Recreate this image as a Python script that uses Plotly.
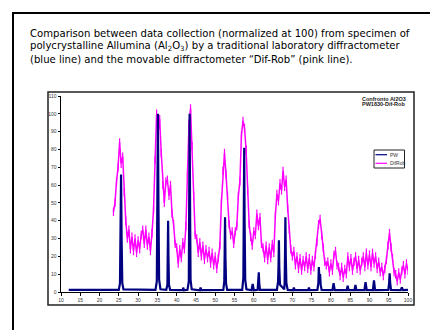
import plotly.graph_objects as go

# ---------------- data ----------------
# PW (traditional laboratory diffractometer) - 2theta / normalized intensity
pw_x = [12.0, 25.0, 25.3, 25.45, 25.58, 25.72, 25.9, 26.2,
        34.5, 34.85, 35.0, 35.14, 35.28, 35.45, 35.8,
        37.3, 37.6, 37.7, 37.78, 37.88, 38.0, 38.3,
        41.6, 41.7, 41.9, 42.8, 43.15, 43.25, 43.36, 43.48, 43.6, 43.9,
        46.0, 46.2, 46.4,
        52.1, 52.35, 52.45, 52.55, 52.65, 52.8, 53.1,
        57.0, 57.3, 57.42, 57.52, 57.62, 57.78, 58.1,
        59.4, 59.72, 60.0,
        61.0, 61.18, 61.3, 61.42, 61.6,
        66.0, 66.3, 66.42, 66.52, 66.62, 66.8, 67.9,
        68.0, 68.1, 68.2, 68.3, 68.45, 68.8,
        70.2, 70.4, 70.6, 74.1, 74.3, 74.5,
        76.5, 76.75, 76.87, 77.0, 77.2, 77.35, 77.6,
        80.4, 80.7, 81.0, 84.1, 84.35, 84.6, 86.1, 86.37, 86.6,
        88.7, 88.99, 89.3, 90.9, 91.18, 91.45,
        94.9, 95.1, 95.24, 95.38, 95.6,
        98.1, 98.4, 98.7, 100.0]
pw_y = [1.2, 1.2, 5, 32, 66, 30, 5, 1.5,
        1.2, 6, 50, 100, 48, 7, 1.5,
        1.2, 4, 20, 40, 19, 4, 1.2,
        1.0, 2.5, 1.0, 1.2, 6, 50, 100, 48, 7, 1.5,
        1.0, 2.5, 1.0,
        1.2, 6, 22, 42, 20, 5, 1.2,
        1.2, 8, 42, 81, 40, 7, 1.5,
        1.0, 4.5, 1.0,
        1.2, 5, 11, 5, 1.2,
        1.2, 6, 15, 29, 14, 4, 1.5,
        5, 21, 42, 20, 5, 1.2,
        1.0, 2.5, 1.0, 1.0, 2.5, 1.0,
        1.2, 5, 14, 9, 10, 4, 1.2,
        1.0, 5, 1.0, 1.0, 3.5, 1.0, 1.0, 4, 1.0,
        1.0, 5.5, 1.0, 1.0, 6.5, 1.0,
        1.2, 5, 10.5, 5, 1.2,
        1.0, 2.5, 1.0, 1.2]

# Dif-Rob (movable diffractometer) - constant-step scan
difrob_start = 23.6
difrob_step = 0.4
difrob_y = [45, 50, 62, 70, 84, 72, 76, 56, 40, 30,
            35, 24, 31, 23, 30, 22, 29, 24, 32, 35,
            27, 35, 26, 31, 23, 33, 46, 74, 100, 90,
            97, 78, 60, 50, 62, 63, 54, 60, 44, 38,
            27, 25, 16, 24, 19, 28, 24, 37, 66, 94,
            103, 82, 54, 32, 30, 22, 28, 20, 26, 18,
            24, 19, 23, 16, 22, 15, 20, 13, 19, 26,
            50, 68, 78, 66, 54, 38, 32, 34, 27, 34,
            37, 54, 62, 88, 96, 92, 80, 57, 38, 31,
            26, 34, 32, 44, 37, 42, 27, 25, 19, 26,
            18, 25, 19, 27, 22, 43, 55, 51, 61, 57,
            68, 59, 63, 47, 35, 24, 20, 23, 15, 20,
            13, 19, 12, 18, 14, 20, 13, 19, 12, 18,
            14, 21, 28, 38, 41, 32, 25, 17, 15, 17,
            11, 16, 12, 21, 23, 15, 14, 9, 14, 8,
            13, 10, 20, 14, 19, 12, 17, 20, 13, 18,
            12, 17, 20, 14, 22, 15, 21, 14, 22, 16,
            20, 13, 17, 11, 14, 9, 13, 18, 26, 33,
            25, 19, 11, 10, 6, 11, 7, 12, 15, 10,
            16, 12]
difrob_x = [round(difrob_start + i * difrob_step, 2) for i in range(len(difrob_y))]

series_names = ["PW", "DifRob"]
chart_title = ["Confronto Al2O3", "PW1830-Dif-Rob"]
caption = ["Comparison between data collection (normalized at 100) from specimen of",
           "polycrystalline Allumina (Al<sub>2</sub>O<sub>3</sub>) by a traditional laboratory diffractometer",
           "(blue line) and the movable diffractometer \u201cDif-Rob\u201d (pink line)."]
x_ticks = list(range(10, 101, 5))
y_ticks = list(range(0, 111, 10))

# ---------------- figure ----------------
NAVY = "#000080"
PINK = "#FF00FF"

fig = go.Figure()
fig.add_trace(go.Scatter(
    x=difrob_x, y=difrob_y, name=series_names[1], mode="lines+markers",
    line=dict(color=PINK, width=1.5),
    marker=dict(symbol="line-ns", size=6, line=dict(color=PINK, width=1.2), color=PINK),
    showlegend=False))
fig.add_trace(go.Scatter(
    x=pw_x, y=pw_y, name=series_names[0], mode="lines",
    line=dict(color=NAVY, width=2.2),
    showlegend=False))

L, R, T, B = 53, 38, 88, 46
W, H = 438, 330
pw_ = W - L - R
ph_ = H - T - B


def px(x):
    return (x - L) / pw_


def py(y):
    return (H - B - y) / ph_


shapes = [
    # outer frame
    dict(type="rect", xref="paper", yref="paper", x0=px(5), x1=px(446), y0=py(5), y1=py(345),
         line=dict(color="black", width=2)),
    # chart area box
    dict(type="rect", xref="paper", yref="paper", x0=px(40), x1=px(406), y0=py(84), y1=py(297),
         line=dict(color="#222", width=1.5)),
    # legend box
    dict(type="rect", xref="paper", yref="paper", x0=px(366), x1=px(396.5), y0=py(142), y1=py(160),
         line=dict(color="#222", width=1)),
    dict(type="line", xref="paper", yref="paper", x0=px(367.5), x1=px(379), y0=py(146.7), y1=py(146.7),
         line=dict(color=NAVY, width=1.2)),
    dict(type="line", xref="paper", yref="paper", x0=px(367.5), x1=px(379), y0=py(155.3), y1=py(155.3),
         line=dict(color=PINK, width=1.2)),
]

annotations = []
for i, t in enumerate(caption):
    annotations.append(dict(text=t, xref="paper", yref="paper", x=px(20), y=py(25 + 13 * i),
                            xanchor="left", yanchor="middle", showarrow=False,
                            font=dict(family="DejaVu Sans", size=10.1, color="black")))
for i, t in enumerate(chart_title):
    annotations.append(dict(text="<b>" + t + "</b>", xref="paper", yref="paper", x=px(375.5),
                            y=py(90.5 + 5.5 * i), xanchor="center", yanchor="middle", showarrow=False,
                            font=dict(family="Liberation Sans", size=5.5, color="#222")))
for name, yy in zip(series_names, [146.7, 155.3]):
    annotations.append(dict(text=name, xref="paper", yref="paper", x=px(379.5), y=py(yy),
                            xanchor="left", yanchor="middle", showarrow=False,
                            font=dict(family="Liberation Sans", size=5, color="#333")))

fig.update_layout(
    width=W, height=H, margin=dict(l=L, r=R, t=T, b=B, pad=0),
    paper_bgcolor="white", plot_bgcolor="white",
    shapes=shapes, annotations=annotations, showlegend=False,
    xaxis=dict(range=[10, 100], tickvals=x_ticks, ticktext=[str(v) for v in x_ticks],
               showline=True, linecolor="black", linewidth=1, ticks="outside", ticklen=2.5,
               tickcolor="black", tickwidth=1, showgrid=False, zeroline=False,
               tickfont=dict(family="Liberation Sans", size=5, color="#333")),
    yaxis=dict(range=[0, 110], tickvals=y_ticks, ticktext=[str(v) for v in y_ticks],
               showline=True, linecolor="black", linewidth=1, ticks="outside", ticklen=2.5,
               tickcolor="black", tickwidth=1, showgrid=False, zeroline=False,
               tickfont=dict(family="Liberation Sans", size=5, color="#333")),
)

fig.write_html("out.html")
